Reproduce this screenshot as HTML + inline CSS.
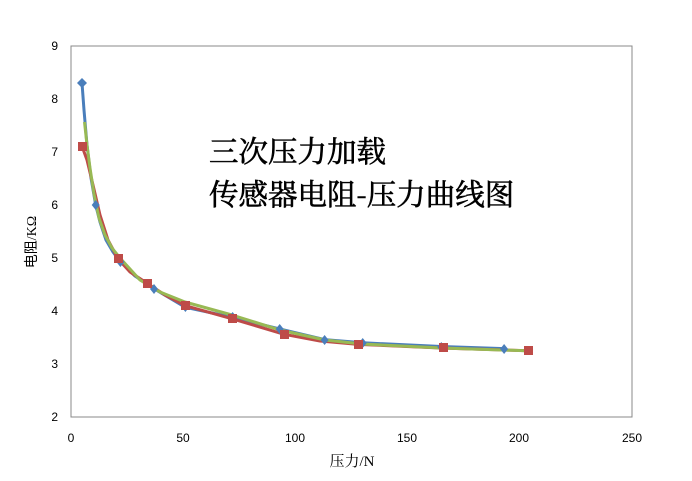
<!DOCTYPE html>
<html><head><meta charset="utf-8"><style>
body{margin:0;background:#fff}
svg{display:block}
text{font-family:"Liberation Sans","DejaVu Sans",sans-serif;font-size:12px;fill:#000}
text.t{font-family:"Noto Serif CJK SC",serif;font-size:29.5px;stroke:#000;stroke-width:0.6}
</style></head><body>
<svg width="692" height="481" viewBox="0 0 692 481">
<rect x="0" y="0" width="692" height="481" fill="#fff"/>
<rect x="71" y="46" width="561" height="371" fill="none" stroke="#888" stroke-width="1"/>
<g text-anchor="end">
<text x="58" y="50">9</text><text x="58" y="103">8</text><text x="58" y="156">7</text><text x="58" y="209">6</text><text x="58" y="262">5</text><text x="58" y="315">4</text><text x="58" y="368">3</text><text x="58" y="421">2</text>
</g>
<g text-anchor="middle">
<text x="71" y="442">0</text><text x="183" y="442">50</text><text x="295" y="442">100</text><text x="407" y="442">150</text><text x="519" y="442">200</text><text x="632" y="442">250</text>
</g>
<text x="352" y="466" text-anchor="middle" style="font-family:'Liberation Serif','Noto Serif CJK SC',serif;font-size:15px">压力/N</text>
<text transform="translate(36,242) rotate(-90)" text-anchor="middle" style="font-family:'Liberation Serif','Noto Sans CJK SC',sans-serif;font-size:14px">电阻/KΩ</text>
<text class="t" x="209" y="162">三次压力加载</text>
<text class="t" x="209" y="205">传感器电阻-压力曲线图</text>
<polyline fill="none" stroke="#4a7ebb" stroke-width="3" stroke-linejoin="round" points="82,83 84,110 87,145 91,178 95.7,205 100,222 106,240 113,252 120.4,261.7 135,276 154,288.7 185.4,307.3 232.6,317.4 279.7,329 324.6,339.6 362.7,342.8 441.3,346.5 504.1,348.6"/>
<polyline fill="none" stroke="#be4b48" stroke-width="3" stroke-linejoin="round" points="82.2,146.7 87,160 93,185 100,215 108,240 118.1,258.9 130,272 147.3,283.4 165,295 185.4,305.7 232.6,318.9 284.2,334.3 320,341 358.2,344.4 443.5,348.1 528.8,350.8"/>
<polyline fill="none" stroke="#98b954" stroke-width="3" stroke-linejoin="round" points="84.5,122 87,145 90,168 94,194 99,218 105,235 112,248 120,258 140,280 160,292 185,302 232,315 280,330 325,340 362,344 442,348 533,351"/>
<g fill="#4a7ebb">
<path d="M82,78l5,5-5,5-5-5z"/><path d="M95.7,200l4,5-4,5-4-5z"/><path d="M120.4,257l4,5-4,5-4-5z"/><path d="M154,284l4,5-4,5-4-5z"/><path d="M185.4,302l4,5-4,5-4-5z"/><path d="M232.6,312l4,5-4,5-4-5z"/><path d="M279.7,324l4,5-4,5-4-5z"/><path d="M324.6,335l4,5-4,5-4-5z"/><path d="M362.7,338l4,5-4,5-4-5z"/><path d="M441.3,342l4,5-4,5-4-5z"/><path d="M504.1,344l4,5-4,5-4-5z"/>
</g>
<g fill="#be4b48">
<rect x="78" y="142" width="9" height="9"/><rect x="114" y="254" width="9" height="9"/><rect x="143" y="279" width="9" height="9"/><rect x="181" y="301" width="9" height="9"/><rect x="228" y="314" width="9" height="9"/><rect x="280" y="330" width="9" height="9"/><rect x="354" y="340" width="9" height="9"/><rect x="439" y="343" width="9" height="9"/><rect x="524" y="346" width="9" height="9"/>
</g>
</svg>
</body></html>
